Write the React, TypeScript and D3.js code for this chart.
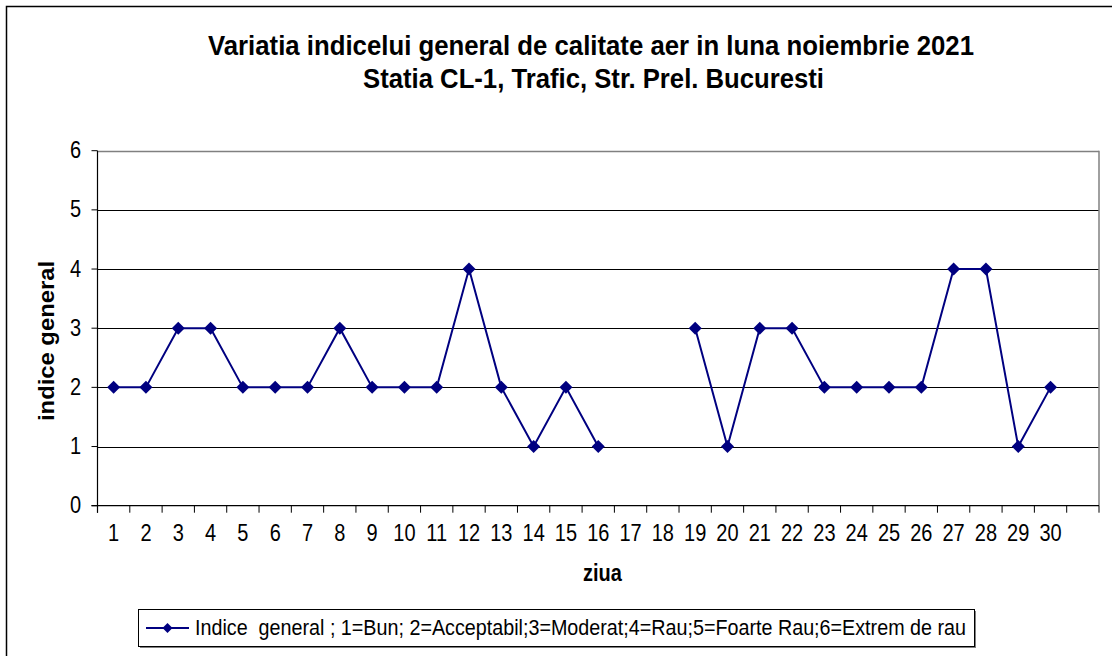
import React from "react";
import * as d3 from "d3";

const days: string[] = ["1","2","3","4","5","6","7","8","9","10","11","12","13","14","15","16","17","18","19","20","21","22","23","24","25","26","27","28","29","30",""];
const indiceValues: (number | null)[] = [2,2,3,3,2,2,2,3,2,2,2,4,2,1,2,1,null,null,3,1,3,3,2,2,2,2,4,4,1,2,null];
const yTicks: number[] = [0,1,2,3,4,5,6];
const titleLines: string[] = [
  "Variatia indicelui general de calitate aer in luna noiembrie 2021",
  "Statia CL-1, Trafic, Str. Prel. Bucuresti",
];
const xAxisTitle = "ziua";
const yAxisTitle = "indice general";
const legendLabel = "Indice  general ; 1=Bun; 2=Acceptabil;3=Moderat;4=Rau;5=Foarte Rau;6=Extrem de rau";

const W = 1112, H = 656;
const FONT = "'Liberation Sans', Arial, sans-serif";
const NAVY = "#000080";

const plot = { left: 97.5, right: 1099, top: 150.7, bottom: 505.7 };

function Txt(props: { x: number; y: number; sy?: number; rot?: number; children: string; size: number; bold?: boolean; anchor?: string; len?: number }) {
  const { x, y, sy = 1.15, rot = 0, children, size, bold, anchor = "middle", len } = props;
  return (
    <text
      transform={`translate(${x},${y}) rotate(${rot}) scale(1,${sy})`}
      fontFamily={FONT}
      fontSize={size}
      fontWeight={bold ? "bold" : "normal"}
      textAnchor={anchor}
      fill="#000"
      textLength={len}
      lengthAdjust={len ? "spacingAndGlyphs" : undefined}
      style={{ whiteSpace: "pre" }}
    >
      {children}
    </text>
  );
}

export default function App() {
  const x = d3.scaleBand<string>().domain(days.map((d, i) => String(i))).range([plot.left, plot.right]).padding(0);
  const y = d3.scaleLinear().domain([0, 6]).range([plot.bottom, plot.top]);
  const cx = (i: number) => (x(String(i)) as number) + x.bandwidth() / 2;

  const line = d3.line<number | null>()
    .defined((d) => d !== null)
    .x((_, i) => cx(i))
    .y((d) => y(d as number));

  const diamond = (px: number, py: number, r: number) =>
    `M${px},${py - r}L${px + r},${py}L${px},${py + r}L${px - r},${py}Z`;

  const boundaries = days.map((_, i) => x(String(i)) as number).concat([plot.right]);

  const legend = { x: 138, y: 609, w: 836, h: 37 };

  return (
    <svg width={W} height={H} style={{ position: "absolute", left: 0, top: 0, background: "#fff" }}>
      <rect x={0} y={0} width={W} height={H} fill="#fff" />
      <rect x={6.5} y={6.5} width={W + 20} height={H + 20} fill="none" stroke="#000" strokeWidth={1.5} />

      <Txt x={591} y={55} size={24} bold len={766}>{titleLines[0]}</Txt>
      <Txt x={593.5} y={88} size={24} bold len={461}>{titleLines[1]}</Txt>

      {/* gridlines */}
      {yTicks.filter((t) => t > 0 && t < 6).map((t) => (
        <line key={t} x1={plot.left} x2={plot.right} y1={Math.round(y(t)) + 0.5} y2={Math.round(y(t)) + 0.5} stroke="#000" strokeWidth={1} />
      ))}
      {/* plot border top/right gray */}
      <line x1={plot.left} x2={plot.right} y1={Math.round(plot.top) + 0.5} y2={Math.round(plot.top) + 0.5} stroke="#808080" strokeWidth={1.5} />
      <line x1={plot.right} x2={plot.right} y1={plot.top} y2={plot.bottom} stroke="#808080" strokeWidth={1.5} />

      {/* axes */}
      <line x1={plot.left} x2={plot.left} y1={plot.top} y2={plot.bottom + 7} stroke="#000" strokeWidth={1.2} />
      <line x1={plot.left - 6} x2={plot.right} y1={plot.bottom} y2={plot.bottom} stroke="#000" strokeWidth={1.2} />
      {yTicks.map((t) => (
        <g key={t}>
          <line x1={plot.left - 6} x2={plot.left} y1={y(t)} y2={y(t)} stroke="#000" strokeWidth={1} />
          <Txt x={81} y={y(t) + 7.5} size={20} anchor="end">{String(t)}</Txt>
        </g>
      ))}
      {boundaries.map((b, i) => (
        <line key={i} x1={b} x2={b} y1={plot.bottom} y2={plot.bottom + 7} stroke="#000" strokeWidth={1} />
      ))}
      {days.map((d, i) => (
        <Txt key={i} x={cx(i)} y={541} size={20}>{d}</Txt>
      ))}

      <Txt x={602.5} y={581} size={20} bold>{xAxisTitle}</Txt>
      <Txt x={54} y={341} size={20} bold rot={-90} sy={1.1} len={160}>{yAxisTitle}</Txt>

      {/* series */}
      <path d={line(indiceValues) || ""} fill="none" stroke={NAVY} strokeWidth={2} />
      {indiceValues.map((v, i) => v === null ? null : (
        <path key={i} d={diamond(cx(i), y(v), 6.5)} fill={NAVY} />
      ))}

      {/* legend */}
      <rect x={legend.x + 2} y={legend.y + 2} width={legend.w} height={legend.h} fill="#808080" />
      <rect x={legend.x + 0.5} y={legend.y + 0.5} width={legend.w} height={legend.h} fill="#fff" stroke="#000" strokeWidth={1} />
      <line x1={146} x2={189} y1={legend.y + legend.h / 2 + 0.5} y2={legend.y + legend.h / 2 + 0.5} stroke={NAVY} strokeWidth={2} />
      <path d={diamond(167.5, legend.y + legend.h / 2 + 0.5, 5)} fill={NAVY} />
      <Txt x={195} y={legend.y + 26} size={19} anchor="start" len={771}>{legendLabel}</Txt>
    </svg>
  );
}
